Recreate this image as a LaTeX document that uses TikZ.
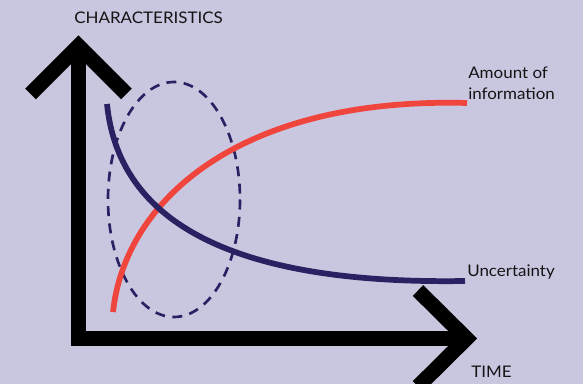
\documentclass[tikz,border=0pt]{standalone}
\usepackage{fontspec}
\setmainfont{Lato}[FakeStretch=1.06]
\definecolor{bg}{RGB}{201,198,224}
\definecolor{navy}{RGB}{40,34,98}
\definecolor{redc}{RGB}{240,69,60}
\begin{document}
\begin{tikzpicture}[x=0.75pt,y=-0.75pt,
  axisline/.style={line width=11.25pt,black,miter limit=10},
  curveline/.style={line width=4.3pt},
  lbl/.style={inner sep=0pt,font=\fontsize{12}{14}\selectfont,text=black!92}]
\fill[bg] (0,0) rectangle (583,384);
\useasboundingbox (0,0) rectangle (583,384);
% coordinates
\coordinate (ytip) at (78.5,46);
\coordinate (origin) at (78.5,338.5);
\coordinate (xtip) at (466.5,338.5);
% axes
\begin{scope}
\clip (0,0) rectangle (583,384);
\draw[axisline,line join=miter] (ytip) -- (origin) -- (xtip);
\draw[axisline,line join=miter] (30.5,94) -- (ytip) -- (126.5,94);
\draw[axisline,line join=miter] (418,290.5) -- (xtip) -- (418,386.5);
\end{scope}
% dashed ellipse
\draw[navy,line width=2pt,dash pattern=on 7.5pt off 5.5pt] (174,199.5) ellipse [x radius=66, y radius=117.5];
% curves
\coordinate (rs) at (113,312);
\coordinate (re) at (467,103);
\coordinate (bs) at (107,104);
\coordinate (be) at (465,281);
\draw[redc,curveline] (rs) .. controls (125,200) and (240,97) .. (re);
\draw[navy,curveline] (bs) .. controls (118,215) and (220,285) .. (be);
% labels
\node[lbl,anchor=base west] (ylab) at (74,24) {CHARACTERISTICS};
\node[lbl,anchor=base west] (xlab) at (471,378) {TIME};
\node[lbl,anchor=base west] (unc) at (467,277) {Uncertainty};
\node[lbl,anchor=base west] (amt1) at (468,79) {Amount of};
\node[lbl,anchor=base west] (amt2) at (468,100) {information};
\end{tikzpicture}
\end{document}
